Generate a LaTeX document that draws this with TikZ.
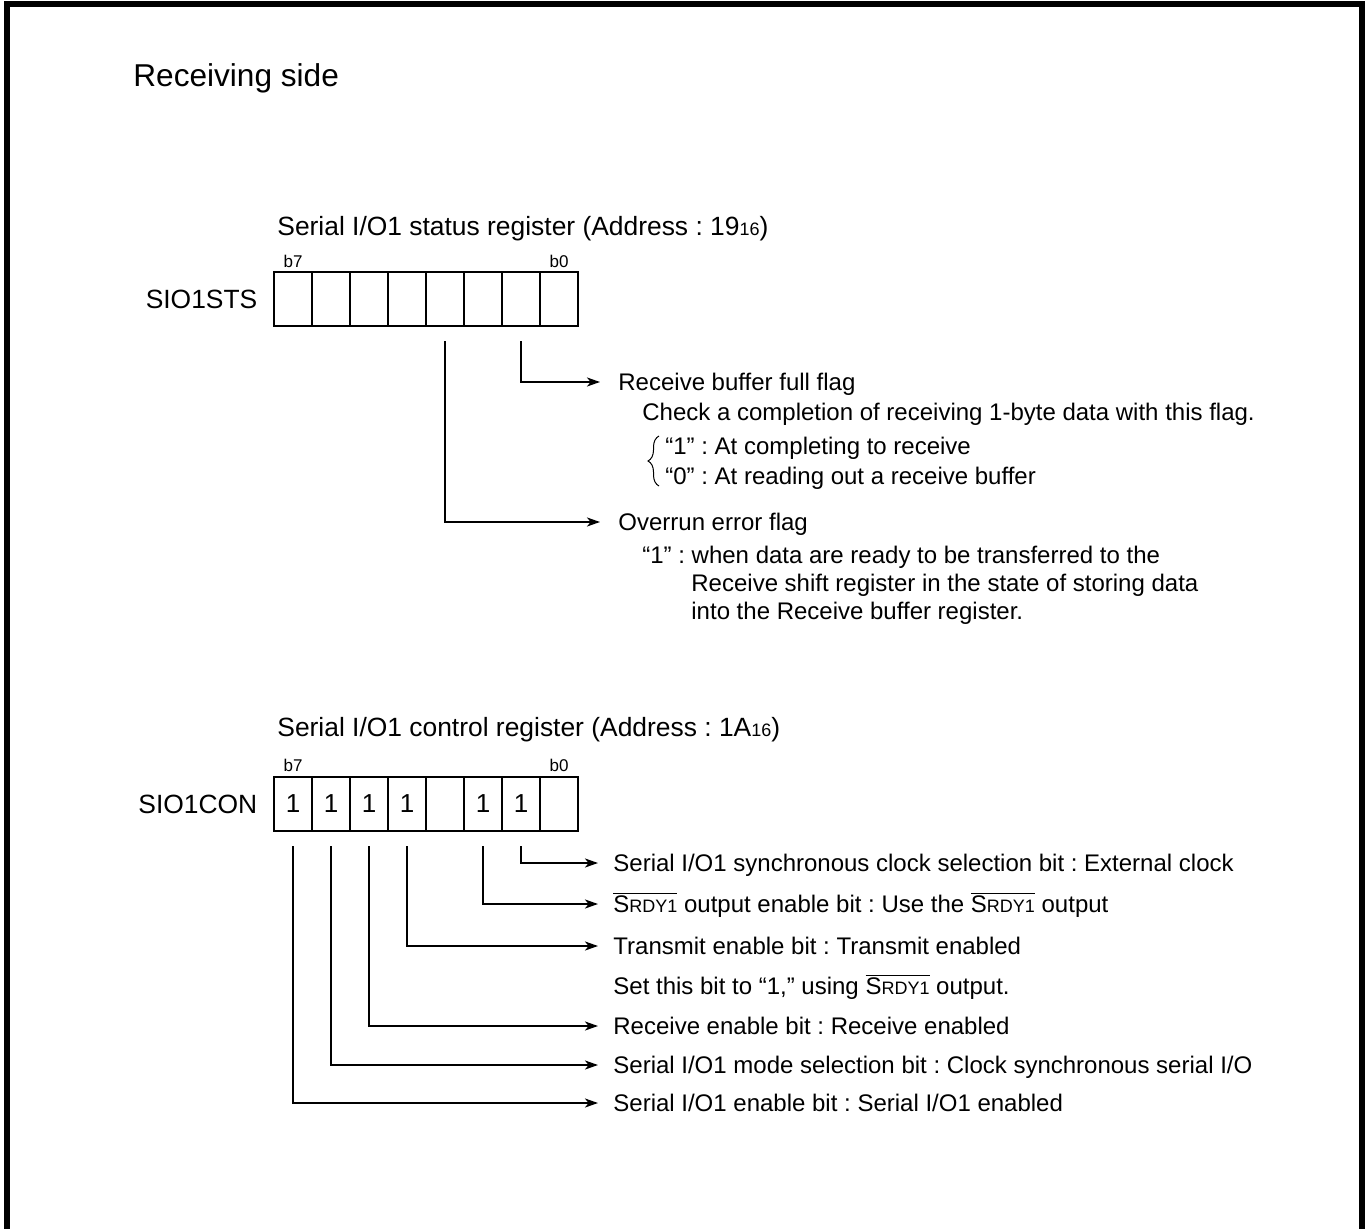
\documentclass[tikz,border=0pt]{standalone}
\usepackage{fontspec}
\setmainfont{Liberation Sans}
\usetikzlibrary{arrows.meta,positioning,decorations.pathreplacing}
\frenchspacing

\newcommand{\srdy}{$\overline{\hbox{S{\fontsize{9}{9}\selectfont RDY1}}}$}
\newcommand{\hexnum}[1]{{\fontsize{9}{9}\selectfont #1}}

\tikzset{
  cell/.style={draw, line width=1.3pt, minimum width=19pt, minimum height=27pt, inner sep=0pt, font=\fontsize{13}{13}\selectfont},
  bitlbl/.style={anchor=base, inner sep=0pt, font=\fontsize{8.5}{8.5}\selectfont},
  reglbl/.style={anchor=east, inner sep=0pt, font=\fontsize{13.2}{13.2}\selectfont},
  regtitle/.style={anchor=base west, inner sep=0pt, font=\fontsize{13.2}{13.2}\selectfont},
  desc/.style={anchor=west, inner sep=0pt, text height=10.6pt, text depth=2pt, font=\fontsize{12}{12}\selectfont},
  conn/.style={line width=1pt, -{Stealth[length=6.5pt,width=4.5pt,inset=1.8pt]}}
}

\begin{document}
\begin{tikzpicture}[x=0.5pt, y=-0.5pt]
\clip (0,0) rectangle (1369,1229);
% frame
\draw[line width=3pt] (6.5,1240) -- (6.5,4.5) -- (1361.5,4.5) -- (1361.5,1240);
\node[anchor=base west, inner sep=0pt, font=\fontsize{15.8}{15.8}\selectfont] (title) at (133,87) {Receiving side};

% status register
\node[regtitle] (ststitle) at (277,236) {Serial I/O1 status register (Address : 19\hexnum{16})};
\foreach \b in {0,...,7}
  \node[cell] (sts\b) at ({293+38*(7-\b)},299) {};
\node[bitlbl] (stsb7) at ([yshift=1.5pt]sts7.north) {b7};
\node[bitlbl] (stsb0) at ([yshift=1.5pt]sts0.north) {b0};
\node[reglbl, left=7.5pt of sts7] (stsname) {SIO1STS};

\node[desc] (rbf) at (618,382) {Receive buffer full flag};
\node[desc] (rbfchk) at (642,412) {Check a completion of receiving 1-byte data with this flag.};
\node[desc] (rbf1) at (665,446) {“1” : At completing to receive};
\node[desc] (rbf0) at (665,476) {“0” : At reading out a receive buffer};
\draw[decorate, decoration={brace, amplitude=5.5pt}, line width=0.5pt]
  ([xshift=-3pt,yshift=-5pt]rbf0.west) -- ([xshift=-3pt,yshift=5pt]rbf1.west);
\node[desc] (ovr) at (618,522) {Overrun error flag};
\node[desc] (ovr1) at (642,555) {“1” : when data are ready to be transferred to the};
\node[desc] (ovr2) at (691,583) {Receive shift register in the state of storing data};
\node[desc] (ovr3) at (691,611) {into the Receive buffer register.};

\draw[conn] ([yshift=-7pt]sts1.south) |- ([xshift=-9pt]rbf.west);
\draw[conn] ([yshift=-7pt]sts3.south) |- ([xshift=-9pt]ovr.west);

% control register
\node[regtitle] (contitle) at (277,736) {Serial I/O1 control register (Address : 1A\hexnum{16})};
\foreach \b/\v in {7/1,6/1,5/1,4/1,3/{},2/1,1/1,0/{}}
  \node[cell] (con\b) at ({293+38*(7-\b)},804) {\v};
\node[bitlbl] (conb7) at ([yshift=2pt]con7.north) {b7};
\node[bitlbl] (conb0) at ([yshift=2pt]con0.north) {b0};
\node[reglbl, left=7.5pt of con7] (conname) {SIO1CON};

\node[desc] (sync) at (613,863) {Serial I/O1 synchronous clock selection bit : External clock};
\node[desc] (rdyen) at (613,904) {\srdy{} output enable bit : Use the \srdy{} output};
\node[desc] (txen) at (613,946) {Transmit enable bit : Transmit enabled};
\node[desc] (txnote) at (613,986) {Set this bit to “1,” using \srdy{} output.};
\node[desc] (rxen) at (613,1026) {Receive enable bit : Receive enabled};
\node[desc] (mode) at (613,1065) {Serial I/O1 mode selection bit : Clock synchronous serial I/O};
\node[desc] (sioen) at (613,1103) {Serial I/O1 enable bit : Serial I/O1 enabled};

\draw[conn] ([yshift=-7pt]con1.south) |- ([xshift=-7.5pt]sync.west);
\draw[conn] ([yshift=-7pt]con2.south) |- ([xshift=-7.5pt]rdyen.west);
\draw[conn] ([yshift=-7pt]con4.south) |- ([xshift=-7.5pt]txen.west);
\draw[conn] ([yshift=-7pt]con5.south) |- ([xshift=-7.5pt]rxen.west);
\draw[conn] ([yshift=-7pt]con6.south) |- ([xshift=-7.5pt]mode.west);
\draw[conn] ([yshift=-7pt]con7.south) |- ([xshift=-7.5pt]sioen.west);
\end{tikzpicture}
\end{document}
